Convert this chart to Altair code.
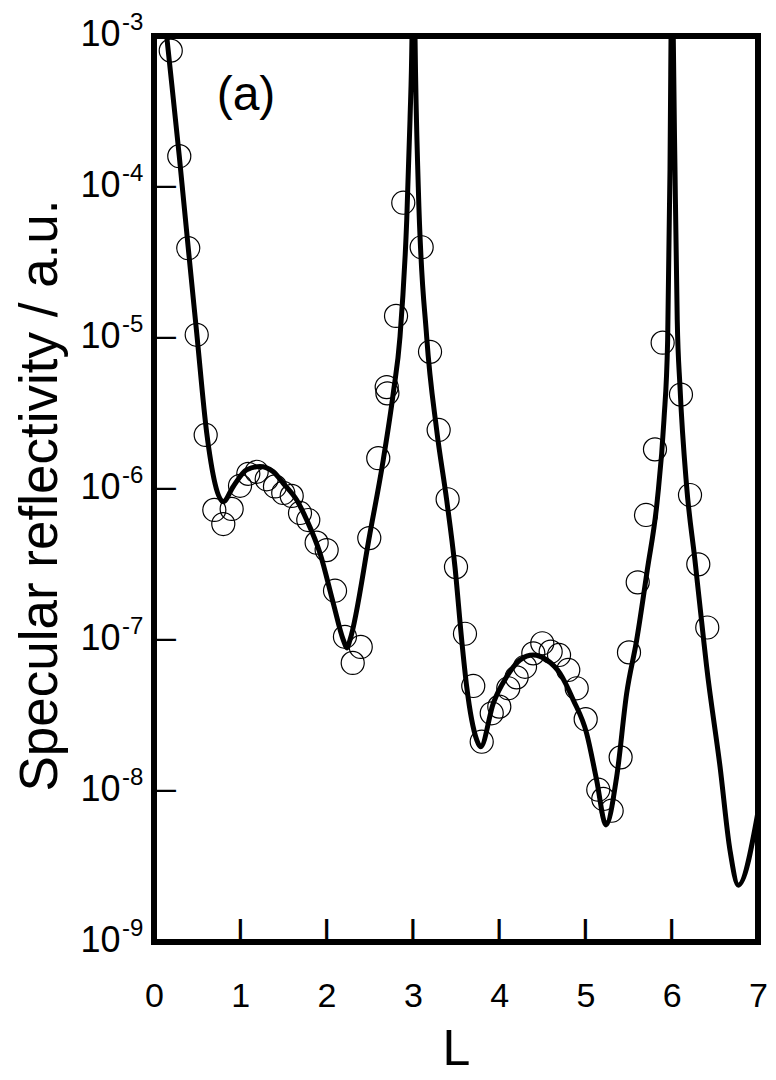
import altair as alt
import pandas as pd

FONT = "Liberation Sans"

# observed (circles)
L_obs = [0.194, 0.293, 0.397, 0.495, 0.599, 0.699, 0.803, 0.900, 0.997, 1.093,
         1.190, 1.306, 1.402, 1.498, 1.596, 1.692, 1.788, 1.885, 2.001, 2.098,
         2.213, 2.303, 2.396, 2.495, 2.599, 2.697, 2.705, 2.805, 2.889, 3.102,
         3.199, 3.299, 3.403, 3.500, 3.604, 3.700, 3.798, 3.914, 4.002, 4.106,
         4.203, 4.300, 4.396, 4.500, 4.597, 4.694, 4.801, 4.899, 5.003, 5.149,
         5.207, 5.304, 5.408, 5.505, 5.606, 5.702, 5.806, 5.895, 6.107, 6.212,
         6.308, 6.412]
R_obs = [8.0e-4, 1.60e-4, 3.93e-5, 1.05e-5, 2.28e-6, 7.27e-7, 5.86e-7, 7.38e-7, 1.05e-6, 1.26e-6,
         1.30e-6, 1.16e-6, 1.04e-6, 9.41e-7, 9.0e-7, 6.94e-7, 6.23e-7, 4.41e-7, 3.94e-7, 2.12e-7,
         1.05e-7, 7.05e-8, 9.0e-8, 4.73e-7, 1.60e-6, 4.73e-6, 4.30e-6, 1.40e-5, 7.87e-5, 3.99e-5,
         8.1e-6, 2.46e-6, 8.55e-7, 3.04e-7, 1.10e-7, 4.96e-8, 2.12e-8, 3.27e-8, 3.62e-8, 4.79e-8,
         5.66e-8, 6.65e-8, 8.16e-8, 9.51e-8, 8.37e-8, 7.96e-8, 6.33e-8, 4.79e-8, 2.99e-8, 1.02e-8,
         8.86e-9, 7.40e-9, 1.67e-8, 8.28e-8, 2.41e-7, 6.73e-7, 1.83e-6, 9.31e-6, 4.22e-6, 9.12e-7,
         3.17e-7, 1.21e-7]

# fitted curve (solid line)
L_fit = [0.120, 0.147, 0.293, 0.397, 0.495, 0.611, 0.803, 0.919, 1.074, 1.228,
         1.383, 1.498, 1.654, 1.770, 1.924, 2.078, 2.194, 2.237, 2.271, 2.503,
         2.657, 2.773, 2.851, 2.929, 2.967, 2.990, 3.007, 3.025, 3.063, 3.160,
         3.276, 3.392, 3.488, 3.566, 3.624, 3.740, 3.786, 3.932, 4.087, 4.242,
         4.396, 4.551, 4.705, 4.859, 5.014, 5.130, 5.238, 5.362, 5.478, 5.594,
         5.717, 5.833, 5.910, 5.953, 5.980, 5.992, 6.005, 6.018, 6.038, 6.064,
         6.096, 6.173, 6.269, 6.366, 6.405, 6.560, 6.675, 6.772, 7.000]
R_fit = [1.41e-3, 1.0e-3, 1.60e-4, 3.94e-5, 1.08e-5, 2.35e-6, 8.24e-7, 1.04e-6, 1.34e-6, 1.41e-6,
         1.30e-6, 1.09e-6, 8.45e-7, 6.24e-7, 3.75e-7, 1.75e-7, 1.0e-7, 8.85e-8, 1.0e-7, 5.09e-7,
         1.56e-6, 4.31e-6, 1.02e-5, 6.04e-5, 2.78e-4, 1.0e-3, 1.0e-2, 1.0e-3, 1.0e-4, 1.02e-5,
         2.46e-6, 8.45e-7, 3.05e-7, 1.0e-7, 4.91e-8, 2.18e-8, 1.96e-8, 3.81e-8, 5.71e-8, 7.38e-8,
         7.96e-8, 7.38e-8, 6.01e-8, 4.01e-8, 2.41e-8, 1.18e-8, 5.96e-9, 1.24e-8, 4.44e-8, 1.0e-7,
         2.91e-7, 8.45e-7, 2.86e-6, 9.7e-6, 1.30e-4, 1.0e-3, 1.0e-2, 1.0e-3, 1.30e-4, 1.32e-5,
         4.75e-6, 1.04e-6, 3.39e-7, 1.05e-7, 6.65e-8, 1.45e-8, 4.06e-9, 2.38e-9, 7.26e-9]

x_ticks = [0, 1, 2, 3, 4, 5, 6, 7]
y_ticks = [1e-9, 1e-8, 1e-7, 1e-6, 1e-5, 1e-4, 1e-3]
y_exp = ["-9", "-8", "-7", "-6", "-5", "-4", "-3"]
panel_text = ["(a)"]
panel_L = [1.066]
panel_R = [3.24e-4]

obs = pd.DataFrame({"L": L_obs, "R": R_obs})
fit = pd.DataFrame({"L": L_fit, "R": R_fit})
xt = pd.DataFrame({"L": x_ticks[1:-1]})
yt = pd.DataFrame({"R": y_ticks, "e": y_exp})
ytin = pd.DataFrame({"R": y_ticks[1:-1]})
ann = pd.DataFrame({"L": panel_L, "R": panel_R, "t": panel_text})

W, H = 604, 906
xs = alt.Scale(domain=[0, 7], nice=False, zero=False)
ys = alt.Scale(type="log", domain=[1e-9, 1e-3], nice=False)

x_axis = alt.Axis(values=x_ticks, title="L", format="d",
                  labelFontSize=34, labelFont=FONT, labelColor="black",
                  labelPadding=37, labelFlush=False, labelOverlap=False,
                  ticks=False, tickSize=0, domain=False, grid=False,
                  titleFontSize=50, titleFont=FONT, titleFontWeight="normal",
                  titleColor="black", titleY=122, titleBaseline="alphabetic")
y_axis = alt.Axis(values=y_ticks, labelExpr="'10'",
                  labelFontSize=36, labelFont=FONT, labelColor="black",
                  labelPadding=34, labelFlush=False, labelOverlap=False,
                  labelBaseline="middle", labelOffset=-2,
                  ticks=False, tickSize=0, domain=False, grid=False,
                  title="Specular reflectivity / a.u.",
                  titleFontSize=53, titleFont=FONT, titleFontWeight="normal",
                  titleColor="black", titleAngle=-90, titleAlign="center",
                  titleBaseline="alphabetic", titleX=-98, titleY=459)

circles = alt.Chart(obs).mark_point(
    shape="circle", size=531, filled=False, stroke="black", strokeWidth=1.2, opacity=1
).encode(
    x=alt.X("L:Q", scale=xs, axis=x_axis),
    y=alt.Y("R:Q", scale=ys, axis=y_axis),
)

line = alt.Chart(fit).mark_line(
    color="black", strokeWidth=5, clip=True, interpolate="monotone"
).encode(x="L:Q", y="R:Q")

# inward tick marks, drawn as bar / dash glyphs placed through the scales
xtick = alt.Chart(xt).mark_text(
    text="|", fontSize=24, fontWeight="bold", font=FONT, color="black",
    align="center", baseline="alphabetic"
).encode(x="L:Q", y=alt.value(H - 5))
ytick = alt.Chart(ytin).mark_text(
    text="\u2014", fontSize=22, fontWeight="bold", font=FONT, color="black",
    align="left", baseline="alphabetic", dy=6
).encode(y="R:Q", x=alt.value(0))

exps = alt.Chart(yt).mark_text(
    align="left", baseline="middle", fontSize=24, font=FONT, dy=-13, color="black"
).encode(y="R:Q", x=alt.value(-32), text="e:N")

label = alt.Chart(ann).mark_text(
    align="center", baseline="alphabetic", fontSize=48, font=FONT, color="black"
).encode(x="L:Q", y="R:Q", text="t:N")

chart = alt.layer(circles, line, xtick, ytick, exps, label).properties(
    width=W, height=H,
    autosize=alt.AutoSizeParams(type="none"),
    padding={"left": 146, "top": 28, "right": 10, "bottom": 130},
).configure_view(stroke="black", strokeWidth=6)

chart.save("out.html", embed_options={"renderer": "svg", "actions": False})
